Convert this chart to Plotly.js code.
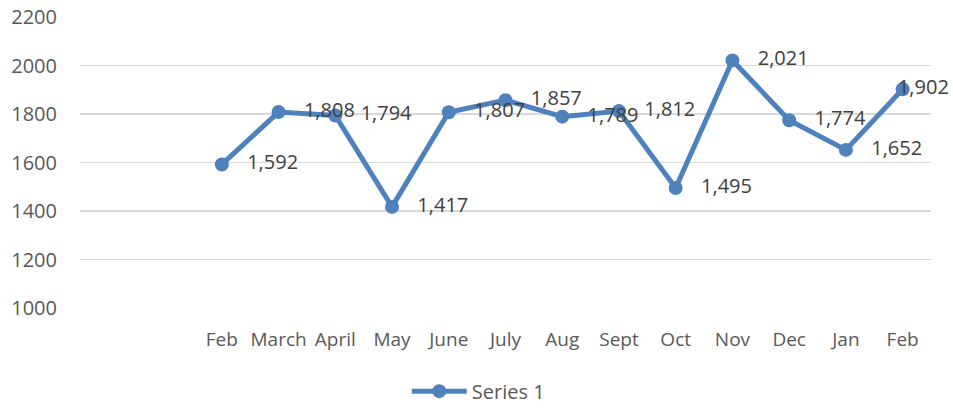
<!DOCTYPE html>
<html>
<head>
<meta charset="utf-8">
<script src="https://cdn.plot.ly/plotly-3.0.1.min.js"></script>
<style>html,body{margin:0;padding:0;background:#fff;}#chart{width:953px;height:410px;}</style>
</head>
<body>
<div id="chart"></div>
<script>
// Category labels (two leading blank categories, as in the reference)
const categories = ["", "", "Feb", "March", "April", "May", "June", "July", "Aug", "Sept", "Oct", "Nov", "Dec", "Jan", "Feb"];
// Series 1 values (null for the blank categories)
const series1 = [null, null, 1592, 1808, 1794, 1417, 1807, 1857, 1789, 1812, 1495, 2021, 1774, 1652, 1902];
const yTicks = [1000, 1200, 1400, 1600, 1800, 2000, 2200];

const xIdx = categories.map((_, i) => i);
const lastIdx = series1.length - 1;
// Labels sit to the right of each point; the last one is pulled back inside the chart edge
const labels = series1.map((v, i) => v == null ? "" :
  (i === lastIdx ? "        " : "   ") + v.toLocaleString("en-US"));
const positions = series1.map((v, i) => i === lastIdx ? "middle center" : "middle right");

const font = "Open Sans, Liberation Sans, sans-serif";
const grey = "#595959";
const blue = "#4F81BD";

Plotly.newPlot("chart", [{
  type: "scatter",
  mode: "lines+markers+text",
  name: "Series 1",
  x: xIdx,
  y: series1,
  text: labels,
  textposition: positions,
  textfont: {family: font, size: 20, color: "#404040"},
  line: {color: blue, width: 5},
  marker: {color: blue, size: 14},
  connectgaps: false,
  cliponaxis: false,
  hoverinfo: "skip"
}], {
  width: 953, height: 410,
  margin: {l: 80, r: 22, t: 17, b: 102, autoexpand: false},
  paper_bgcolor: "#fff", plot_bgcolor: "#fff",
  font: {family: font, size: 20, color: grey},
  showlegend: true,
  legend: {orientation: "h", xref: "paper", x: 0.468, xanchor: "center",
           yref: "container", y: 0.046, yanchor: "middle",
           font: {family: font, size: 20, color: grey}, itemwidth: 55},
  xaxis: {
    range: [-0.5, categories.length - 0.5],
    tickvals: xIdx, ticktext: categories,
    showgrid: false, zeroline: false, showline: false,
    ticks: "", ticklabelstandoff: 18, automargin: false,
    tickfont: {family: font, size: 19, color: grey}, fixedrange: true
  },
  yaxis: {
    range: [1000, 2200], tickvals: yTicks,
    showgrid: true, gridcolor: "#D9D9D9", gridwidth: 1.5,
    zeroline: false, showline: false, ticks: "",
    ticklabelstandoff: 22, automargin: false,
    tickfont: {family: font, size: 20, color: grey}, fixedrange: true
  }
}, {displayModeBar: false, staticPlot: true});
</script>
</body>
</html>
